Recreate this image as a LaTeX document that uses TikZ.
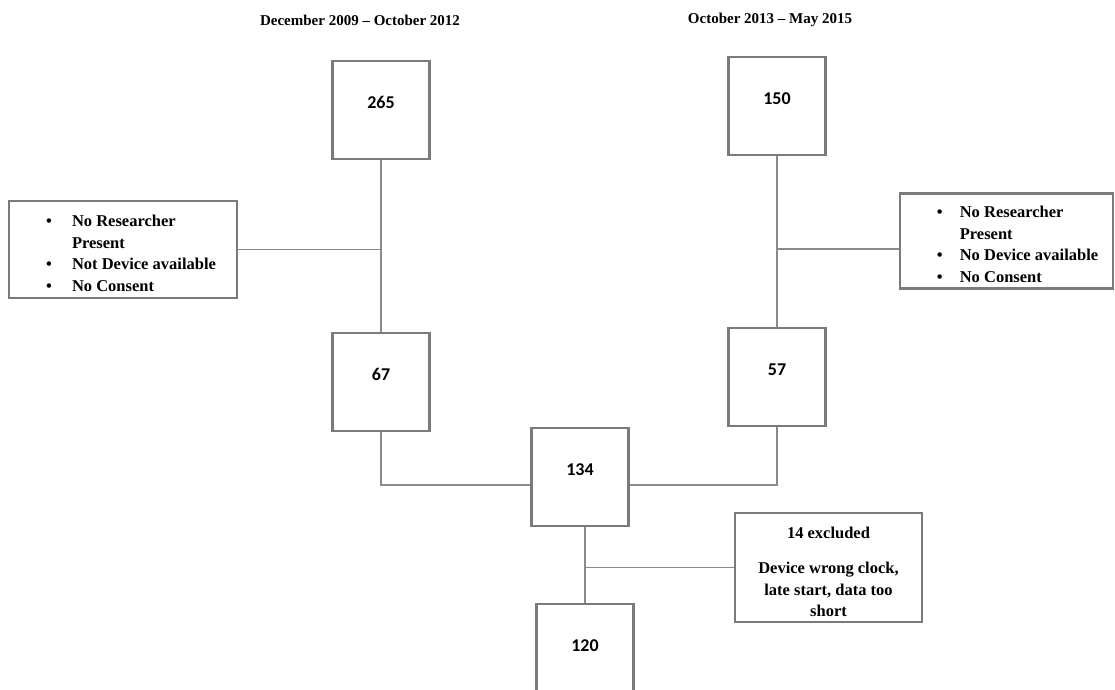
\documentclass[tikz,border=0pt]{standalone}
\usepackage{fontspec}
\setmainfont{Liberation Serif}
\newfontfamily\chiffres{Carlito}

\definecolor{bord}{HTML}{7A7A7A}
\definecolor{filet}{HTML}{8A8A8A}

\tikzset{
  effectif/.style={draw=bord, line width=2.4pt, minimum width=97pt, minimum height=98pt,
    inner sep=0pt, text height=13pt, text depth=17pt,
    font=\chiffres\bfseries\fontsize{18}{20}\selectfont},
  motif/.style={draw=bord, line width=2.4pt, inner sep=0pt, align=left,
    font=\bfseries\fontsize{16.5}{21.5}\selectfont},
  titre/.style={font=\bfseries\fontsize{15}{18}\selectfont},
  lien/.style={draw=filet, line width=1.3pt}
}

\begin{document}
\begin{tikzpicture}[x=1pt, y=-1pt]
\clip (0,0) rectangle (1115,689);

% Periodes
\node[titre] (periodeA) at (360,20) {December 2009 -- October 2012};
\node[titre] (periodeB) at (770,20) {October 2013 -- May 2015};

% Effectifs
\node[effectif] (n265) at (381,110) {265};
\node[effectif] (n150) at (777,106) {150};
\node[effectif] (n67) at (381,382) {67};
\node[effectif] (n57) at (777,377) {57};
\node[effectif] (n134) at (580,477) {134};
\node[effectif] (n120) at (585,653) {120};

% Motifs de non-inclusion
\node[motif, minimum width=228pt, minimum height=97pt] (motifsA) at (123,249.5) {%
  \begin{tabular}{@{\hspace{16pt}}p{26pt}@{}l@{}}
    \textbullet & \rule{0pt}{25pt}No Researcher\\
                & Present\\
    \textbullet & Not Device available\\
    \textbullet & No Consent
  \end{tabular}};
\node[motif, minimum width=213pt, minimum height=92pt] (motifsB) at (1006.5,241) {%
  \begin{tabular}{@{\hspace{22pt}}p{23pt}@{}l@{}}
    \textbullet & \rule{0pt}{24pt}No Researcher\\
                & Present\\
    \textbullet & No Device available\\
    \textbullet & No Consent
  \end{tabular}};
\node[motif, align=center, minimum width=187pt, minimum height=109pt] (exclus) at (828.5,567.5)
  {\rule{0pt}{20pt}14 excluded\\[14pt] Device wrong clock,\\ late start, data too\\ short};

% Liaisons
\draw[lien] (n265.south) -- (n67.north);
\draw[lien] (motifsA.east) -- (motifsA.east -| n265.south);
\draw[lien] (n150.south) -- (n57.north);
\draw[lien] ([yshift=-8pt]motifsB.west) -- ([yshift=-8pt]motifsB.west -| n150.south);
\draw[lien] (n67.south) |- ([yshift=-8pt]n134.west);
\draw[lien] (n57.south) |- ([yshift=-8pt]n134.east);
\draw[lien] (n120.north |- n134.south) -- (n120.north);
\draw[lien] (exclus.west) -- (exclus.west -| n120.north);
\end{tikzpicture}
\end{document}
